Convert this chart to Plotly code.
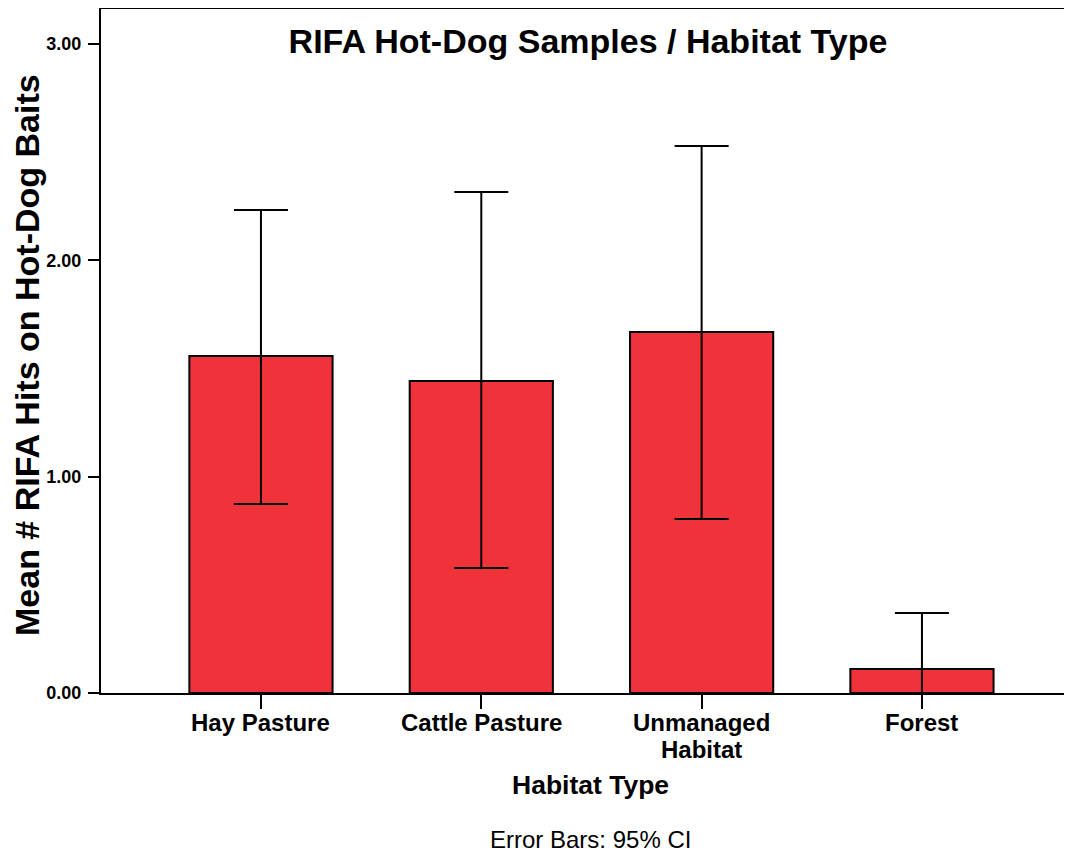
import plotly.graph_objects as go

categories = ["Hay Pasture", "Cattle Pasture", "Unmanaged<br>Habitat", "Forest"]
means = [1.558, 1.442, 1.669, 0.111]
ci_upper = [2.233, 2.316, 2.529, 0.370]
ci_lower = [0.874, 0.578, 0.804, -0.150]
y_ticks = [0, 1, 2, 3]
y_tick_labels = ["0.00", "1.00", "2.00", "3.00"]

err_plus = [u - m for u, m in zip(ci_upper, means)]
err_minus = [m - l for m, l in zip(means, ci_lower)]

FONT = "Liberation Sans, Arial, sans-serif"

# page is offset by ~8px body margin; plot area target: screen x 101..1072, y 9..693
OFF = 8
L, T, PH = 101 - OFF, 9 - OFF, 684
W, H = 1072 - OFF, 852 - OFF


def py(screen_y):
    return (693 - screen_y) / PH


def px(screen_x):
    return (screen_x - 101) / (W - L)


fig = go.Figure()
fig.add_trace(go.Bar(
    x=list(range(len(categories))),
    y=means,
    width=0.65,
    marker=dict(color="#F0323A", line=dict(color="black", width=2)),
    error_y=dict(type="data", symmetric=False, array=err_plus, arrayminus=err_minus,
                 color="black", thickness=2, width=27),
    showlegend=False,
    hoverinfo="skip",
))

fig.update_layout(
    width=W, height=H,
    margin=dict(l=L, r=0, t=T, b=H - T - PH, pad=0),
    paper_bgcolor="white", plot_bgcolor="white",
    font=dict(family=FONT, color="black"),
    title=dict(text="<b>RIFA Hot-Dog Samples / Habitat Type</b>", x=px(588), xref="paper",
               xanchor="center", y=1 - (41 - OFF) / H, yanchor="middle",
               font=dict(size=34, family=FONT, color="black")),
)

fig.update_xaxes(
    range=[-0.726, 3.681],
    tickmode="array", tickvals=list(range(len(categories))),
    showticklabels=False,
    ticks="outside", ticklen=14, tickwidth=2, tickcolor="black",
    showline=True, linecolor="black", linewidth=2, mirror=True,
    showgrid=False, zeroline=False,
)
fig.update_yaxes(
    range=[0, 3.162],
    tickmode="array", tickvals=y_ticks,
    ticktext=["<b>" + t + "</b>" for t in y_tick_labels],
    tickfont=dict(size=18, family=FONT, color="black"),
    ticklabelstandoff=3,
    ticks="outside", ticklen=11, tickwidth=2, tickcolor="black",
    showline=True, linecolor="black", linewidth=2, mirror=False,
    showgrid=False, zeroline=False,
)

# category labels (tight line spacing as in the reference)
for i, cat in enumerate(categories):
    for j, line in enumerate(cat.split("<br>")):
        fig.add_annotation(text="<b>" + line + "</b>", xref="x", yref="paper",
                           x=i, y=py(723 + 26 * j), xanchor="center", yanchor="middle",
                           showarrow=False, font=dict(size=24, family=FONT, color="black"))

fig.add_annotation(text="<b>Mean # RIFA Hits on Hot-Dog Baits</b>", textangle=-90,
                   xref="paper", yref="paper", x=px(27), y=py(355),
                   xanchor="center", yanchor="middle", showarrow=False,
                   font=dict(size=34, family=FONT, color="black"))
fig.add_annotation(text="<b>Habitat Type</b>",
                   xref="paper", yref="paper", x=px(590), y=py(785),
                   xanchor="center", yanchor="middle", showarrow=False,
                   font=dict(size=26.5, family=FONT, color="black"))
fig.add_annotation(text="Error Bars: 95% CI",
                   xref="paper", yref="paper", x=px(590), y=py(840),
                   xanchor="center", yanchor="middle", showarrow=False,
                   font=dict(size=24, family=FONT, color="black"))

fig.write_html("out.html")
